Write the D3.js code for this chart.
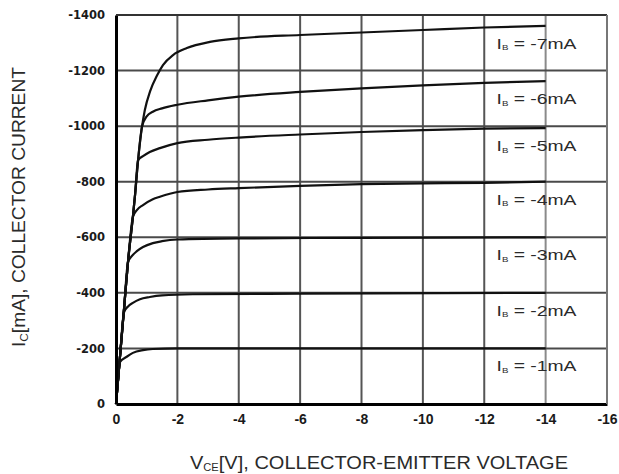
<!DOCTYPE html>
<html>
<head>
<meta charset="utf-8">
<script src="https://cdn.jsdelivr.net/npm/d3@7"></script>
<style>
  body { margin: 0; background: #fff; }
  svg { display: block; }
</style>
</head>
<body>
<svg id="chart" width="619" height="474"></svg>
<script>
// base current of each curve, mA
const baseCurrents = [-1, -2, -3, -4, -5, -6, -7];

// [VCE (V), IC (mA)], one array per base current
const curveB1 = [[0,0],[-0.06,-80],[-0.12,-150],[-0.35,-170],[-0.55,-184],[-0.88,-194],[-1.2,-198],[-2,-200],[-6,-200],[-14,-200]];
const curveB2 = [[0,0],[-0.07,-90],[-0.13,-170],[-0.26,-330],[-0.4,-352],[-0.55,-364],[-0.78,-377],[-1.1,-385],[-1.5,-391],[-2.5,-395],[-6,-397],[-14,-400]];
const curveB3 = [[0,0],[-0.07,-90],[-0.13,-170],[-0.26,-340],[-0.39,-510],[-0.5,-530],[-0.68,-550],[-0.88,-565],[-1.2,-579],[-1.5,-586],[-2,-592],[-4,-596],[-8,-598],[-14,-600]];
const curveB4 = [[0,0],[-0.07,-90],[-0.13,-170],[-0.26,-340],[-0.39,-510],[-0.55,-673],[-0.68,-698],[-0.88,-716],[-1.2,-737],[-1.43,-746],[-2,-763],[-3,-772],[-4,-777],[-6,-785],[-8,-791],[-10,-794],[-12,-796],[-14,-800]];
const curveB5 = [[0,0],[-0.07,-90],[-0.13,-170],[-0.26,-340],[-0.39,-510],[-0.55,-673],[-0.62,-752],[-0.72,-878],[-0.88,-892],[-1.1,-907],[-1.43,-921],[-2,-939],[-3,-951],[-4,-959],[-6,-970],[-8,-979],[-10,-986],[-12,-991],[-14,-993]];
const curveB6 = [[0,0],[-0.07,-90],[-0.13,-170],[-0.26,-340],[-0.39,-510],[-0.55,-673],[-0.62,-752],[-0.72,-878],[-0.85,-1000],[-1.0,-1035],[-1.2,-1052],[-1.5,-1064],[-2,-1077],[-3,-1093],[-4,-1106],[-6,-1123],[-8,-1136],[-10,-1147],[-12,-1156],[-14,-1162]];
const curveB7 = [[0,0],[-0.07,-90],[-0.13,-170],[-0.26,-340],[-0.39,-510],[-0.55,-673],[-0.62,-752],[-0.72,-878],[-0.85,-1000],[-0.94,-1058],[-1.11,-1125],[-1.34,-1183],[-1.53,-1220],[-1.86,-1256],[-2.31,-1281],[-3.06,-1303],[-4,-1316],[-6,-1328],[-8,-1337],[-10,-1346],[-12,-1355],[-14,-1361]];

// tick values of both axes
const xTicks = [0, -2, -4, -6, -8, -10, -12, -14, -16];
const yTicks = [0, -200, -400, -600, -800, -1000, -1200, -1400];

const curves = [curveB1, curveB2, curveB3, curveB4, curveB5, curveB6, curveB7];

const svg = d3.select("#chart");
const m = { left: 116, right: 607, top: 15, bottom: 404 };

//THE SCALES
const x = d3.scaleLinear().domain([0, -16]).range([m.left, m.right]);
const y = d3.scaleLinear().domain([0, -1400]).range([m.bottom, m.top]);

//THE GRID
svg.append("g")
  .selectAll("line")
  .data(xTicks.slice(1))
  .join("line")
  .attr("x1", d => x(d)).attr("x2", d => x(d))
  .attr("y1", m.top).attr("y2", m.bottom)
  .attr("stroke", d => d <= -14 ? "#8a8a8a" : "#555")
  .attr("stroke-width", 2);

svg.append("g")
  .selectAll("line")
  .data(yTicks.slice(1))
  .join("line")
  .attr("x1", m.left).attr("x2", m.right)
  .attr("y1", d => y(d)).attr("y2", d => y(d))
  .attr("stroke", "#4a4a4a")
  .attr("stroke-width", 2);

//THE CURVES
const line = d3.line()
  .x(d => x(d[0]))
  .y(d => y(d[1]))
  .curve(d3.curveMonotoneX);

svg.append("g")
  .selectAll("path")
  .data(curves)
  .join("path")
  .attr("d", line)
  .attr("fill", "none")
  .attr("stroke", "#111")
  .attr("stroke-width", 2.2)
  .attr("stroke-linejoin", "round");

//THE AXES
const fmt = d => String(d);
const xAxis = svg.append("g")
  .attr("transform", `translate(0, ${m.bottom})`)
  .call(d3.axisBottom(x).tickValues(xTicks).tickFormat(fmt).tickSize(0).tickPadding(10));
const yAxis = svg.append("g")
  .attr("transform", `translate(${m.left}, 0)`)
  .call(d3.axisLeft(y).tickValues(yTicks).tickFormat(fmt).tickSize(0).tickPadding(11));

[xAxis, yAxis].forEach(g => {
  g.select(".domain").attr("stroke", "#000").attr("stroke-width", 3);
  g.selectAll("text")
    .attr("font-weight", "bold")
    .attr("fill", "#1a1a1a");
});
xAxis.selectAll("text")
  .attr("font-family", "Liberation Sans, Arial, sans-serif")
  .attr("font-size", 14);
yAxis.selectAll("text")
  .attr("font-family", "DejaVu Sans, sans-serif")
  .attr("font-size", 11.5);

// top and right border of the frame
svg.append("line")
  .attr("x1", m.left).attr("x2", m.right).attr("y1", m.top).attr("y2", m.top)
  .attr("stroke", "#333").attr("stroke-width", 2);
svg.append("line")
  .attr("x1", m.right).attr("x2", m.right).attr("y1", m.top).attr("y2", m.bottom)
  .attr("stroke", "#777").attr("stroke-width", 2);

//THE CURVE LABELS
const labels = svg.append("g")
  .selectAll("text")
  .data(baseCurrents)
  .join("text")
  .attr("x", x(-12.4))
  .attr("y", (d, i) => y(curves[i][curves[i].length - 1][1]) + 23)
  .attr("font-family", "Liberation Sans, Arial, sans-serif")
  .attr("font-size", 14)
  .attr("fill", "#2a2a2a")
  .attr("textLength", 80)
  .attr("lengthAdjust", "spacingAndGlyphs");
labels.append("tspan").text("I");
labels.append("tspan").attr("font-size", 7).attr("dy", 1.5).text("B");
labels.append("tspan").attr("dy", -1.5).text(d => ` = ${d}mA`);

//THE AXIS TITLES
const yTitle = svg.append("text")
  .attr("transform", "translate(25, 207) rotate(-90)")
  .attr("text-anchor", "middle")
  .attr("font-family", "Liberation Sans, Arial, sans-serif")
  .attr("font-size", 18)
  .attr("fill", "#2a2a2a")
  .attr("textLength", 280)
  .attr("lengthAdjust", "spacingAndGlyphs");
yTitle.append("tspan").text("I");
yTitle.append("tspan").attr("font-size", 11).attr("dy", 3).text("C");
yTitle.append("tspan").attr("dy", -3).text("[mA], COLLECTOR CURRENT");

const xTitle = svg.append("text")
  .attr("x", 379)
  .attr("y", 469)
  .attr("text-anchor", "middle")
  .attr("font-family", "Liberation Sans, Arial, sans-serif")
  .attr("font-size", 18)
  .attr("fill", "#2a2a2a")
  .attr("textLength", 378)
  .attr("lengthAdjust", "spacingAndGlyphs");
xTitle.append("tspan").text("V");
xTitle.append("tspan").attr("font-size", 10).attr("dy", 2).text("CE");
xTitle.append("tspan").attr("dy", -2).text("[V], COLLECTOR-EMITTER VOLTAGE");
</script>
</body>
</html>
